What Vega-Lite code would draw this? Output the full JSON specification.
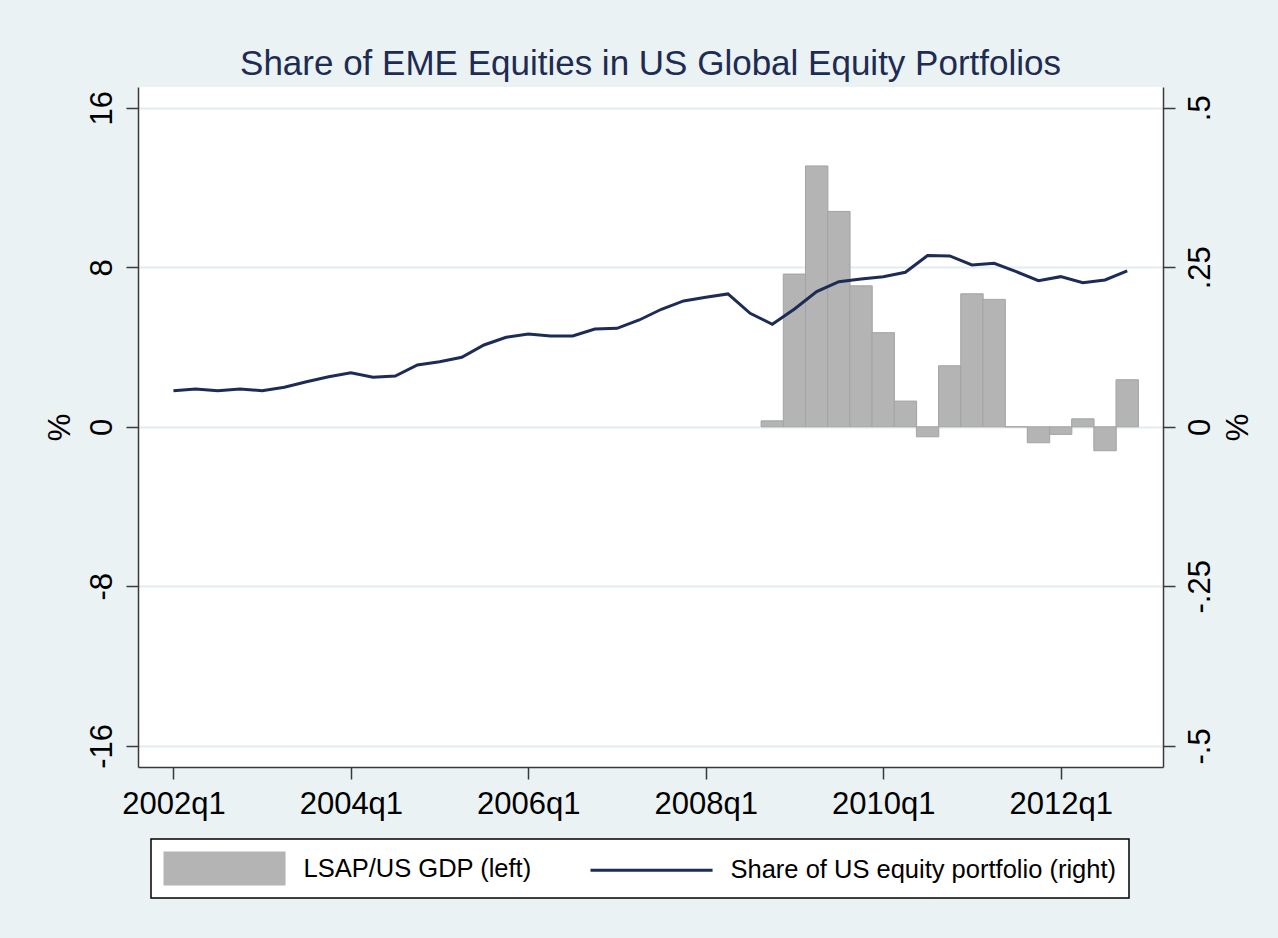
{
  "$schema": "https://vega.github.io/schema/vega-lite/v6.json",
  "width": 1025,
  "height": 680,
  "autosize": {"type": "none"},
  "padding": {"left": 138, "top": 87, "right": 115, "bottom": 171},
  "background": "#EAF2F3",
  "view": {"fill": "#FFFFFF", "stroke": null},
  "title": {
    "text": "Share of EME Equities in US Global Equity Portfolios",
    "fontSize": 35,
    "font": "Liberation Sans",
    "fontWeight": "normal",
    "color": "#1E2B52",
    "anchor": "middle",
    "frame": "group",
    "baseline": "alphabetic",
    "offset": -23
  },
  "data": {
    "values": [
      {"date": "2002q1", "t": 2002.0, "share": 0.0566},
      {"date": "2002q2", "t": 2002.25, "share": 0.0592},
      {"date": "2002q3", "t": 2002.5, "share": 0.0566},
      {"date": "2002q4", "t": 2002.75, "share": 0.0592},
      {"date": "2003q1", "t": 2003.0, "share": 0.0566},
      {"date": "2003q2", "t": 2003.25, "share": 0.0619},
      {"date": "2003q3", "t": 2003.5, "share": 0.0707},
      {"date": "2003q4", "t": 2003.75, "share": 0.0785},
      {"date": "2004q1", "t": 2004.0, "share": 0.0848},
      {"date": "2004q2", "t": 2004.25, "share": 0.0776},
      {"date": "2004q3", "t": 2004.5, "share": 0.0796},
      {"date": "2004q4", "t": 2004.75, "share": 0.0969},
      {"date": "2005q1", "t": 2005.0, "share": 0.1020},
      {"date": "2005q2", "t": 2005.25, "share": 0.1089},
      {"date": "2005q3", "t": 2005.5, "share": 0.1282},
      {"date": "2005q4", "t": 2005.75, "share": 0.1403},
      {"date": "2006q1", "t": 2006.0, "share": 0.1455},
      {"date": "2006q2", "t": 2006.25, "share": 0.1423},
      {"date": "2006q3", "t": 2006.5, "share": 0.1423},
      {"date": "2006q4", "t": 2006.75, "share": 0.1533},
      {"date": "2007q1", "t": 2007.0, "share": 0.1544},
      {"date": "2007q2", "t": 2007.25, "share": 0.1674},
      {"date": "2007q3", "t": 2007.5, "share": 0.1842},
      {"date": "2007q4", "t": 2007.75, "share": 0.1972},
      {"date": "2008q1", "t": 2008.0, "share": 0.2030},
      {"date": "2008q2", "t": 2008.25, "share": 0.2082},
      {"date": "2008q3", "t": 2008.5, "share": 0.1779},
      {"date": "2008q4", "t": 2008.75, "share": 0.1607, "lsap": 0.30},
      {"date": "2009q1", "t": 2009.0, "share": 0.1846, "lsap": 7.66},
      {"date": "2009q2", "t": 2009.25, "share": 0.2118, "lsap": 13.08},
      {"date": "2009q3", "t": 2009.5, "share": 0.2274, "lsap": 10.80},
      {"date": "2009q4", "t": 2009.75, "share": 0.2317, "lsap": 7.07},
      {"date": "2010q1", "t": 2010.0, "share": 0.2353, "lsap": 4.72},
      {"date": "2010q2", "t": 2010.25, "share": 0.2422, "lsap": 1.29},
      {"date": "2010q3", "t": 2010.5, "share": 0.2685, "lsap": -0.50},
      {"date": "2010q4", "t": 2010.75, "share": 0.2677, "lsap": 3.06},
      {"date": "2011q1", "t": 2011.0, "share": 0.2536, "lsap": 6.67},
      {"date": "2011q2", "t": 2011.25, "share": 0.2563, "lsap": 6.39},
      {"date": "2011q3", "t": 2011.5, "share": 0.2431, "lsap": 0.0},
      {"date": "2011q4", "t": 2011.75, "share": 0.2290, "lsap": -0.80},
      {"date": "2012q1", "t": 2012.0, "share": 0.2353, "lsap": -0.38},
      {"date": "2012q2", "t": 2012.25, "share": 0.2259, "lsap": 0.40},
      {"date": "2012q3", "t": 2012.5, "share": 0.2301, "lsap": -1.20},
      {"date": "2012q4", "t": 2012.75, "share": 0.2442, "lsap": 2.36}
    ]
  },
  "layer": [
    {
      "transform": [{"filter": "isValid(datum.lsap)"}],
      "mark": {"type": "bar", "size": 22.4, "fill": "#B4B4B4", "stroke": "#A3A3A3", "strokeWidth": 1},
      "encoding": {
        "x": {
          "field": "t",
          "type": "quantitative",
          "scale": {"domain": [2001.657, 2013.097], "nice": false, "zero": false},
          "axis": {
            "values": [2002, 2004, 2006, 2008, 2010, 2012],
            "labelExpr": "datum.value + 'q1'",
            "title": null,
            "grid": false,
            "tickSize": 12,
            "labelFontSize": 31,
            "labelPadding": 10,
            "labelFlush": false
          }
        },
        "y": {
          "field": "lsap",
          "type": "quantitative",
          "scale": {"domain": [-17.06, 17.04], "nice": false, "zero": false},
          "axis": {
            "orient": "left",
            "values": [-16, -8, 0, 8, 16],
            "labelExpr": "'' + datum.value",
            "title": "%",
            "grid": true,
            "gridColor": "#E3ECEF",
            "gridWidth": 2,
            "tickSize": 12,
            "labelFontSize": 31,
            "labelAngle": -90,
            "labelAlign": "center",
            "labelBaseline": "bottom",
            "labelPadding": 8,
            "titleFontSize": 31,
            "titleFontWeight": "normal",
            "titleAngle": -90,
            "titleBaseline": "bottom",
            "titlePadding": 10
          }
        }
      }
    },
    {
      "mark": {"type": "line", "strokeWidth": 3, "stroke": "#1C2C56"},
      "encoding": {
        "x": {"field": "t", "type": "quantitative"},
        "y": {
          "field": "share",
          "type": "quantitative",
          "scale": {"domain": [-0.5331, 0.5325], "nice": false, "zero": false},
          "axis": {
            "orient": "right",
            "values": [-0.5, -0.25, 0, 0.25, 0.5],
            "labelExpr": "replace('' + datum.value, '0.', '.')",
            "title": "%",
            "grid": false,
            "tickSize": 12,
            "labelFontSize": 31,
            "labelAngle": -90,
            "labelAlign": "center",
            "labelBaseline": "top",
            "labelPadding": 10,
            "titleFontSize": 31,
            "titleFontWeight": "normal",
            "titleAngle": -90,
            "titleBaseline": "top",
            "titlePadding": 8
          }
        }
      }
    },
    {
      "data": {"values": [{"series": "LSAP/US GDP (left)"}, {"series": "Share of US equity portfolio (right)"}]},
      "mark": {"type": "point", "filled": true, "opacity": 0, "size": 1156},
      "encoding": {
        "color": {
          "field": "series",
          "type": "nominal",
          "scale": {
            "domain": ["LSAP/US GDP (left)", "Share of US equity portfolio (right)"],
            "range": ["#B4B4B4", "#1C2C56"]
          },
          "legend": {
            "title": null,
            "orient": "none",
            "legendX": 13,
            "legendY": 752,
            "direction": "horizontal",
            "columnPadding": 58,
            "padding": 12.5,
            "strokeColor": "#000000",
            "fillColor": "#FFFFFF",
            "labelFont": "Liberation Sans",
            "labelFontSize": 25.5,
            "labelColor": "#000000",
            "labelOffset": 106,
            "labelLimit": 0,
            "symbolSize": 1156,
            "symbolOpacity": 1,
            "symbolStrokeWidth": 0
          }
        },
        "shape": {
          "field": "series",
          "type": "nominal",
          "scale": {
            "domain": ["LSAP/US GDP (left)", "Share of US equity portfolio (right)"],
            "range": ["M-1,-1H6.18V1H-1Z", "M-1,-0.09H6.18V0.09H-1Z"]
          },
          "legend": {
            "title": null,
            "orient": "none",
            "legendX": 13,
            "legendY": 752,
            "direction": "horizontal",
            "columnPadding": 58,
            "padding": 12.5,
            "strokeColor": "#000000",
            "fillColor": "#FFFFFF",
            "labelFont": "Liberation Sans",
            "labelFontSize": 25.5,
            "labelColor": "#000000",
            "labelOffset": 106,
            "labelLimit": 0,
            "symbolSize": 1156,
            "symbolOpacity": 1,
            "symbolStrokeWidth": 0
          }
        }
      }
    }
  ],
  "resolve": {"scale": {"y": "independent"}},
  "config": {
    "view": {"fill": "#FFFFFF", "stroke": null},
    "legend": {"strokeWidth": 1.5},
    "axis": {
      "labelFont": "Liberation Sans",
      "titleFont": "Liberation Sans",
      "labelColor": "#000000",
      "titleColor": "#000000",
      "domainColor": "#3A3A3A",
      "domainWidth": 1.5,
      "tickColor": "#3A3A3A",
      "tickWidth": 1.5
    }
  }
}
